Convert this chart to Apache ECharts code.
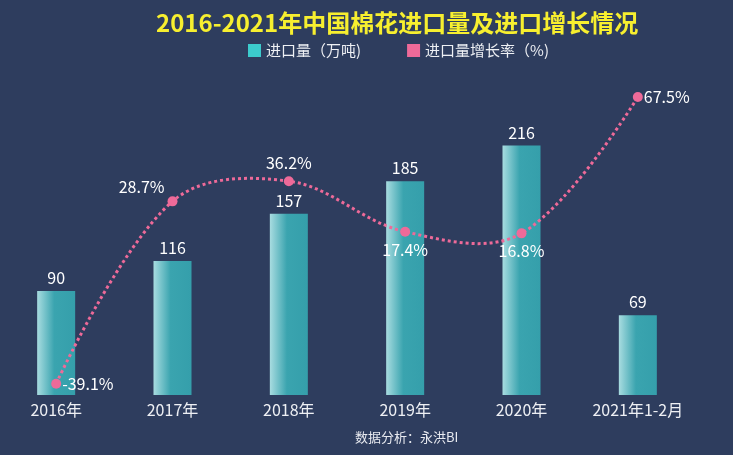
<!DOCTYPE html>
<html>
<head>
<meta charset="utf-8">
<script src="https://cdn.jsdelivr.net/npm/echarts@6/dist/echarts.min.js"></script>
<style>
  html, body { margin: 0; padding: 0; background: #2e3d5e; }
  #main { width: 733px; height: 455px; }
</style>
</head>
<body>
<div id="main"></div>
<script>
// 年份
var years = ['2016年', '2017年', '2018年', '2019年', '2020年', '2021年1-2月'];
// 进口量（万吨）
var importVol = [90, 116, 157, 185, 216, 69];
// 进口量增长率（%）
var growthRate = [-39.1, 28.7, 36.2, 17.4, 16.8, 67.5];
// 增长率标签位置
var ratePos = ['right', 'left', 'top', 'bottom', 'bottom', 'right'];

var FONT = '"Noto Sans CJK SC", "Noto Sans", sans-serif';
var PINK = '#ee6a99';
var chart = echarts.init(document.getElementById('main'));

var rateData = growthRate.map(function (v, i) {
  var lbl = { position: ratePos[i] };
  if (ratePos[i] === 'left') lbl.offset = [2, -14];
  if (ratePos[i] === 'right') lbl.offset = [-4, 0];
  return { value: v, label: lbl };
});

var option = {
  backgroundColor: '#2e3d5e',
  textStyle: { fontFamily: FONT },
  title: [{
    text: '2016-2021年中国棉花进口量及进口增长情况',
    left: 151,
    top: 6,
    textStyle: { color: '#f7ef2f', fontSize: 24, fontWeight: 'bold', fontFamily: FONT }
  }, {
    text: '数据分析：永洪BI',
    left: 350,
    top: 426,
    textStyle: { color: '#e8eaf0', fontSize: 13, fontWeight: 'normal', fontFamily: FONT }
  }],
  legend: {
    top: 38,
    left: 243,
    icon: 'rect',
    itemWidth: 13,
    itemHeight: 13,
    itemGap: 46,
    textStyle: { color: '#eef0f4', fontSize: 15, fontFamily: FONT },
    data: [
      { name: '进口量（万吨)', itemStyle: { color: '#3ccbcd' } },
      { name: '进口量增长率（%)', itemStyle: { color: PINK } }
    ]
  },
  grid: { left: -2, right: 37, top: 97, bottom: 60, outerBoundsMode: 'none' },
  xAxis: {
    type: 'category',
    data: years,
    axisLine: { show: false },
    axisTick: { show: false },
    axisLabel: { color: '#eef0f4', fontSize: 16, margin: 7, interval: 0, fontFamily: FONT }
  },
  yAxis: [{
    type: 'value', min: 0, max: 258, show: false, splitLine: { show: false }
  }, {
    type: 'value', min: -43.3, max: 67.5, show: false, splitLine: { show: false }
  }],
  series: [{
    name: '进口量（万吨)',
    type: 'bar',
    barWidth: 38,
    data: importVol,
    itemStyle: {
      color: new echarts.graphic.LinearGradient(0, 0, 1, 0, [
        { offset: 0, color: '#a8dce0' },
        { offset: 0.45, color: '#3aa4af' },
        { offset: 1, color: '#359fab' }
      ])
    },
    label: { show: true, position: 'top', color: '#ffffff', fontSize: 16, fontFamily: FONT }
  }, {
    // 曲线本身：用自定义系列画出带过冲的平滑虚线
    type: 'custom',
    yAxisIndex: 1,
    silent: true,
    clip: false,
    z: 5,
    data: growthRate.map(function (v, i) { return [i, v]; }),
    renderItem: function (params, api) {
      if (params.dataIndex !== 0) return null;
      var pts = growthRate.map(function (v, i) { return api.coord([i, v]); });
      return {
        type: 'polyline',
        z2: 10,
        shape: { points: pts, smooth: 0.36 },
        style: { stroke: PINK, lineWidth: 3, lineDash: [3, 3], fill: null }
      };
    }
  }, {
    name: '进口量增长率（%)',
    type: 'line',
    yAxisIndex: 1,
    symbol: 'circle',
    symbolSize: 10,
    data: rateData,
    itemStyle: { color: PINK },
    lineStyle: { opacity: 0 },
    label: {
      show: true, color: '#ffffff', fontSize: 16, fontFamily: FONT,
      formatter: function (p) { return p.value + '%'; }
    },
    z: 6
  }]
};

chart.setOption(option);
</script>
</body>
</html>
